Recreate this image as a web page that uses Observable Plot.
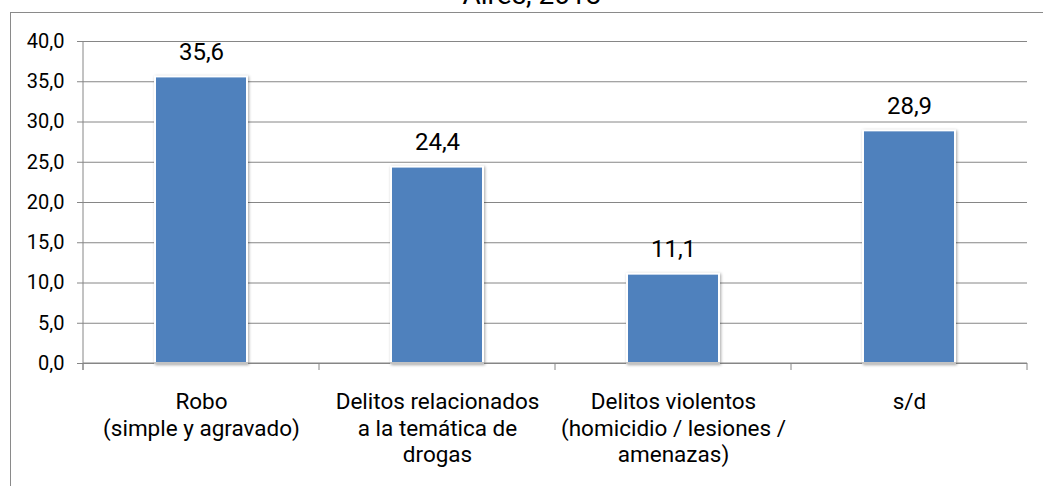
<!DOCTYPE html>
<html>
<head>
<meta charset="utf-8">
<script src="https://cdn.jsdelivr.net/npm/d3@7"></script>
<script src="https://cdn.jsdelivr.net/npm/@observablehq/plot@0.6"></script>
<style>
  html, body { margin: 0; padding: 0; background: #fff; overflow: hidden; }
  #wrap { position: relative; width: 1043px; height: 486px; overflow: hidden; font-family: Roboto, sans-serif; }
  #frame { position: absolute; left: 10px; top: 12px; width: 1100px; height: 600px; border-left: 1px solid #8a8a8a; border-top: 1px solid #8a8a8a; box-sizing: border-box; }
  #title { position: absolute; left: 332px; width: 400px; top: -19px; text-align: center; font-size: 28px; line-height: 28px; color: #000; white-space: nowrap; }
  #chart { position: absolute; left: 0; top: 0; }
</style>
</head>
<body>
<div id="wrap">
  <div id="frame"></div>
  <div id="title">Aires, 2013</div>
  <div id="chart"></div>
</div>
<script>
const categories = ["Robo", "Delitos relacionados", "Delitos violentos", "s/d"];
const categoryLabels = [
  "Robo\n(simple y agravado)",
  "Delitos relacionados\na la temática de\ndrogas",
  "Delitos violentos\n(homicidio / lesiones /\namenazas)",
  "s/d"
];
const values = [35.6, 24.4, 11.1, 28.9];
const yTicks = [0, 5, 10, 15, 20, 25, 30, 35, 40];

const data = categories.map((c, i) => ({category: c, value: values[i]}));
const fmt = d3.formatLocale({decimal: ",", thousands: ".", grouping: [3], currency: ["", ""]}).format(".1f");
const labelOf = new Map(categories.map((c, i) => [c, categoryLabels[i]]));

const plot = Plot.plot({
  width: 1043,
  height: 486,
  marginLeft: 83,
  marginRight: 16,
  marginTop: 41,
  marginBottom: 123,
  style: {fontFamily: "Roboto, sans-serif", background: "transparent", overflow: "visible"},
  x: {domain: categories, paddingInner: 0.61, paddingOuter: 0.305, label: null},
  y: {domain: [0, 40], label: null},
  marks: [
    Plot.gridY(yTicks, {stroke: "#868686", strokeOpacity: 1, strokeWidth: 1}),
    Plot.axisY(yTicks, {tickSize: 6, tickPadding: 13, stroke: "#868686", fontSize: 20, fill: "#000", tickFormat: fmt, label: null}),
    Plot.barY(data, {x: "category", y: "value", fill: "#4F81BD", stroke: "#ffffff", strokeWidth: 2}),
    Plot.text(data, {x: "category", y: "value", text: d => fmt(d.value), dy: -25, fontSize: 24, fill: "#000"}),
    Plot.axisX({tickSize: 0, tickPadding: 27, fontSize: 22.5, fill: "#000", lineHeight: 1.18, lineAnchor: "top", tickFormat: d => labelOf.get(d), label: null})
  ]
});

// shadow on bars
d3.select(plot).selectAll('g[aria-label="bar"] rect').style("filter", "drop-shadow(1px 1px 1.5px rgba(0,0,0,0.35))");

// axis lines and category boundary ticks, derived from Plot scales
const xs = plot.scale("x");
const ys = plot.scale("y");
const svg = d3.select(plot);
const [y0px, y1px] = [ys.apply(0), ys.apply(40)];
const gap = (xs.step - xs.bandwidth) / 2;
const bounds = categories.map(c => xs.apply(c) - gap);
bounds.push(xs.apply(categories[categories.length - 1]) + xs.bandwidth + gap);
const g = svg.append("g").attr("stroke", "#868686").attr("stroke-width", 1);
g.append("line").attr("x1", bounds[0]).attr("x2", bounds[0]).attr("y1", y1px).attr("y2", y0px + 7);
g.append("line").attr("x1", bounds[0]).attr("x2", bounds[bounds.length - 1]).attr("y1", y0px).attr("y2", y0px);
bounds.forEach(b => g.append("line").attr("x1", b).attr("x2", b).attr("y1", y0px).attr("y2", y0px + 7));

document.getElementById("chart").appendChild(plot);
</script>
</body>
</html>
